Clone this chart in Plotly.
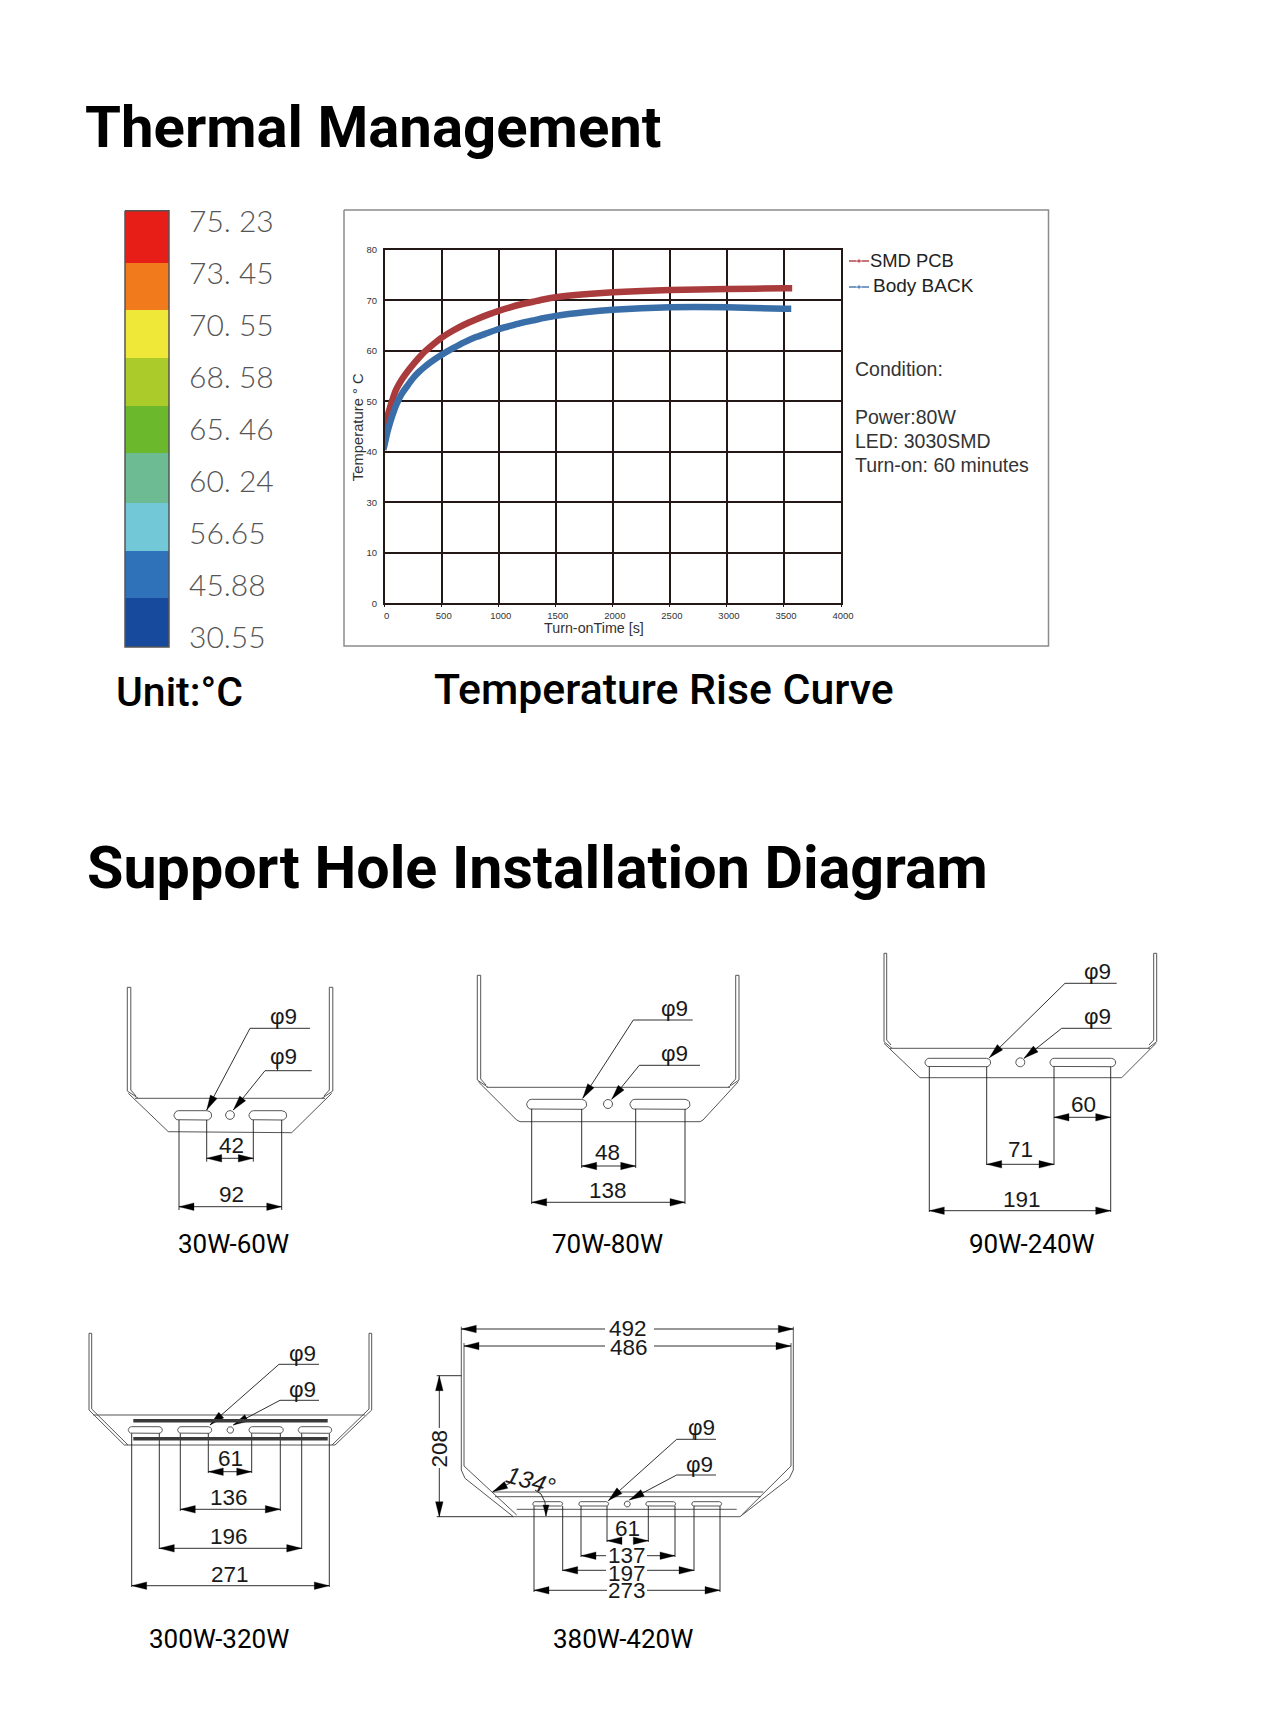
import numpy as np
import plotly.graph_objects as go

W, H = 1268, 1732

# ---------- data ----------
CURVE_TIME_PCB = [-20, 0, 25, 50, 75, 100, 150, 200, 250, 300, 350, 400, 500, 600, 700, 800, 900, 1000, 1100, 1200, 1300, 1400, 1500, 1750, 2000, 2500, 3000, 3500, 3572]
CURVE_TEMP_PCB = [42.7, 44.5, 47.0, 49.0, 50.8, 52.3, 54.3, 55.9, 57.3, 58.6, 59.8, 60.8, 62.6, 64.0, 65.2, 66.2, 67.1, 67.9, 68.6, 69.2, 69.7, 70.2, 70.6, 71.2, 71.6, 72.0, 72.2, 72.35, 72.35]
CURVE_TIME_BACK = [-12, 0, 25, 50, 75, 100, 150, 200, 250, 300, 350, 400, 500, 600, 700, 800, 900, 1000, 1100, 1200, 1300, 1400, 1500, 1750, 2000, 2500, 3000, 3500, 3564]
CURVE_TEMP_BACK = [40.4, 41.5, 44.0, 46.0, 47.7, 49.2, 51.5, 53.1, 54.6, 55.8, 56.8, 57.7, 59.2, 60.5, 61.7, 62.7, 63.5, 64.3, 64.9, 65.5, 66.0, 66.5, 66.9, 67.6, 68.1, 68.6, 68.6, 68.3, 68.3]
# The source axis has no 20 gridline: its labels run 0, 10, 30, 40 ... 80 at even spacing.
Y_TICK_POS = [10, 20, 30, 40, 50, 60, 70, 80]
Y_TICK_TEXT = ["0", "10", "30", "40", "50", "60", "70", "80"]
X_TICKS = [0, 500, 1000, 1500, 2000, 2500, 3000, 3500, 4000]
SCALE_LABELS = ["75. 23", "73. 45", "70. 55", "68. 58", "65. 46", "60. 24", "56.65", "45.88", "30.55"]
SCALE_BANDS = [51.9, 47.4, 47.8, 47.4, 47.8, 49.5, 47.7, 47.4, 49.2]
SCALE_COLORS = ["#E61E17", "#F07A1C", "#F0E838", "#AACB2A", "#6CB82C", "#6DBB92", "#72C8D6", "#2F72BA", "#174A9C"]
CONDITION_LINES = ["Condition:", "Power:80W", "LED: 3030SMD", "Turn-on: 60 minutes"]
LEGEND_NAMES = ["SMD PCB", "Body BACK"]
DIMS_30_60 = ["42", "92"]
DIMS_70_80 = ["48", "138"]
DIMS_90_240 = ["60", "71", "191"]
DIMS_300_320 = ["61", "136", "196", "271"]
DIMS_380_420 = ["492", "486", "208", "61", "137", "197", "273"]
WATT_LABELS = ["30W-60W", "70W-80W", "90W-240W", "300W-320W", "380W-420W"]
HOLE_LABEL = "φ9"
ANGLE_LABEL = "134°"

SANS = "Liberation Sans"
HEAD = "Roboto"
INK = "#1a1a1a"
WIRE = "#555555"
NUM = 22.5

fig = go.Figure()
annotations = []


def T(x, y, text, size=NUM, color=INK, family=SANS, weight=None, angle=0, anchor="center", style=None):
    font = dict(family=family, size=size, color=color)
    if weight:
        font["weight"] = weight
    if style:
        font["style"] = style
    annotations.append(dict(x=x, y=y, xref="x3", yref="y3", text=text, showarrow=False, font=font,
                            xanchor=anchor, yanchor="middle", textangle=angle,
                            borderpad=0, borderwidth=0))


class Sheet:
    """Line drawing in page pixels, collected into a few traces."""

    def __init__(self):
        self.lines = ([], [])
        self.fine = ([], [])
        self.heads = ([], [])

    def line(self, *pts, fine=False):
        b = self.fine if fine else self.lines
        for p in pts:
            b[0].append(p[0]); b[1].append(p[1])
        b[0].append(None); b[1].append(None)

    def head(self, tip, frm, length=15, half=3.8):
        t = np.array(tip, float); f = np.array(frm, float)
        u = (f - t) / np.linalg.norm(f - t)
        n = np.array([-u[1], u[0]])
        a = t + u * length + n * half
        b = t + u * length - n * half
        for p in (t, a, b, t):
            self.heads[0].append(float(p[0])); self.heads[1].append(float(p[1]))
        self.heads[0].append(None); self.heads[1].append(None)

    def pill(self, x0, x1, y0, y1):
        r = (y1 - y0) / 2
        cy = (y0 + y1) / 2
        a = np.linspace(-np.pi / 2, np.pi / 2, 10)
        right = [(x1 - r + r * np.cos(t), cy + r * np.sin(t)) for t in a]
        left = [(x0 + r - r * np.cos(t), cy - r * np.sin(t)) for t in a]
        self.line(*(right + left + [right[0]]))

    def circle(self, cx, cy, r):
        a = np.linspace(0, 2 * np.pi, 25)
        self.line(*[(cx + r * np.cos(t), cy + r * np.sin(t)) for t in a])

    def dim(self, x0, x1, y, gap=None):
        if gap:
            self.line((x0, y), (gap[0], y), fine=True)
            self.line((gap[1], y), (x1, y), fine=True)
        else:
            self.line((x0, y), (x1, y), fine=True)
        self.head((x0, y), (x1, y))
        self.head((x1, y), (x0, y))

    def leader(self, p0, p1, tip):
        self.line(p0, p1, tip, fine=True)
        self.head(tip, p1)

    def flush(self):
        fig.add_trace(go.Scatter(x=self.lines[0], y=self.lines[1], mode="lines", xaxis="x3", yaxis="y3",
                                 line=dict(color=WIRE, width=1.0), hoverinfo="skip", showlegend=False))
        fig.add_trace(go.Scatter(x=self.fine[0], y=self.fine[1], mode="lines", xaxis="x3", yaxis="y3",
                                 line=dict(color=INK, width=0.9), hoverinfo="skip", showlegend=False))
        fig.add_trace(go.Scatter(x=self.heads[0], y=self.heads[1], mode="lines", fill="toself", fillcolor="#000000",
                                 xaxis="x3", yaxis="y3", line=dict(color="#000000", width=0.3),
                                 hoverinfo="skip", showlegend=False))


# ---------- colour scale (stacked bars, labels on its own axis) ----------
scale_total = sum(SCALE_BANDS)
SCALE_TOP, SCALE_LEFT, SCALE_RIGHT = 210.8, 125, 169
for h, c in zip(reversed(SCALE_BANDS), reversed(SCALE_COLORS)):
    fig.add_trace(go.Bar(x=[0], y=[h], width=1, marker=dict(color=c, line=dict(width=0)),
                         xaxis="x2", yaxis="y2", hoverinfo="skip", showlegend=False))
label_pos = [scale_total - (221.8 - SCALE_TOP) - 51.93 * i for i in range(len(SCALE_LABELS))]

# ---------- temperature curves ----------
fig.add_trace(go.Scatter(x=CURVE_TIME_PCB, y=CURVE_TEMP_PCB, mode="lines", name=LEGEND_NAMES[0], cliponaxis=False,
                         line=dict(color="#A93B3C", width=6.5, shape="spline", smoothing=0.5), showlegend=False))
fig.add_trace(go.Scatter(x=CURVE_TIME_BACK, y=CURVE_TEMP_BACK, mode="lines", name=LEGEND_NAMES[1], cliponaxis=False,
                         line=dict(color="#3A6EA8", width=6.5, shape="spline", smoothing=0.5), showlegend=False))

# ---------- page furniture ----------
frame_x = [344, 1048.5, 1048.5, 344, 344]
frame_y = [210, 210, 646, 646, 210]
fig.add_trace(go.Scatter(x=frame_x, y=frame_y, mode="lines", xaxis="x3", yaxis="y3", hoverinfo="skip",
                         line=dict(color="#8C8C8C", width=1.5), showlegend=False))
scale_bottom = SCALE_TOP + scale_total
fig.add_trace(go.Scatter(x=[SCALE_LEFT, SCALE_RIGHT, SCALE_RIGHT, SCALE_LEFT, SCALE_LEFT],
                         y=[SCALE_TOP, SCALE_TOP, scale_bottom, scale_bottom, SCALE_TOP], mode="lines", xaxis="x3", yaxis="y3",
                         hoverinfo="skip", line=dict(color="#555555", width=1.5), showlegend=False))
for (y, col) in ((261, "#B5474A"), (287, "#4A7DB5")):
    fig.add_trace(go.Scatter(x=[849, 859, 869], y=[y, y, y], mode="lines+markers", xaxis="x3", yaxis="y3",
                             hoverinfo="skip", showlegend=False, line=dict(color=col, width=1.5),
                             marker=dict(size=[0, 4, 0], color=col, symbol="diamond")))

T(85, 127, "Thermal Management", 58.1, "#000000", HEAD, 700, anchor="left")
T(87, 867, "Support Hole Installation Diagram", 59.2, "#000000", HEAD, 700, anchor="left")
T(116, 692, "Unit:°C", 41, "#000000", HEAD, 500, anchor="left")
T(434, 689, "Temperature Rise Curve", 42.8, "#000000", HEAD, 500, anchor="left")
T(357.7, 427.5, "Temperature ° C", 14.8, "#333333", angle=-90)
T(593.5, 627.5, "Turn-onTime [s]", 14.3, "#333333")
T(870, 260.5, LEGEND_NAMES[0], 18.4, "#222222", anchor="left")
T(873, 285.5, LEGEND_NAMES[1], 19, "#222222", anchor="left")
for y, t in zip((369, 416.7, 441, 465), CONDITION_LINES):
    T(855, y, t, 19.5, "#333333", anchor="left")

# ---------- 30W-60W ----------
s = Sheet()
s.line((127.3, 987.3), (127.3, 1091), (138.3, 1098.3))
s.line((130.8, 987.3), (130.8, 1090), (136, 1096))
s.line((329.3, 987.3), (329.3, 1090), (324, 1096))
s.line((332.8, 987.3), (332.8, 1091), (322, 1098.3))
s.line((127.3, 987.3), (130.8, 987.3)); s.line((329.3, 987.3), (332.8, 987.3))
s.line((135, 1098.3), (325, 1098.3))
s.line((128.3, 1093.3), (168.3, 1131.7), (291.7, 1132.7), (331.7, 1093.3))
s.pill(174, 211.7, 1110.7, 1120); s.pill(249, 286.7, 1110.7, 1120)
s.circle(230, 1115, 4.4)
s.leader((310, 1028.3), (250, 1028.3), (206.7, 1110))
s.leader((311.7, 1070.7), (265, 1070.7), (233.3, 1110))
s.line((277.5, 1022), (277.5, 1028.3), fine=True); s.line((277.5, 1063), (277.5, 1070.7), fine=True)
T(283, 1016, HOLE_LABEL); T(283, 1056, HOLE_LABEL)
s.line((179, 1120), (179, 1210), fine=True); s.line((281.7, 1120), (281.7, 1210), fine=True)
s.line((206.7, 1120), (206.7, 1161.7), fine=True); s.line((253.3, 1120), (253.3, 1161.7), fine=True)
s.dim(206.7, 253.3, 1158.3); s.dim(179, 281.7, 1206.7)
T(231.7, 1145, DIMS_30_60[0]); T(231.7, 1194, DIMS_30_60[1])
s.flush()
T(233, 1244, WATT_LABELS[0], 26, "#000000", HEAD, 400)

# ---------- 70W-80W ----------
s = Sheet()
s.line((477.3, 975.3), (477.3, 1080), (488, 1087.3))
s.line((480.7, 975.3), (480.7, 1079), (486, 1085))
s.line((735.7, 975.3), (735.7, 1079), (730, 1085))
s.line((739, 975.3), (739, 1080), (728, 1087.3))
s.line((477.3, 975.3), (480.7, 975.3)); s.line((735.7, 975.3), (739, 975.3))
s.line((486.7, 1087.3), (730, 1087.3))
s.line((478.3, 1081.7), (516.7, 1120), (520, 1121.7), (700, 1121.7), (703, 1120), (738.3, 1081.7))
s.pill(526.7, 586.7, 1099.3, 1109.3); s.pill(630, 690, 1099.3, 1109.3)
s.circle(608, 1104, 4.5)
s.leader((692.7, 1020), (633.3, 1020), (582.7, 1098.3))
s.leader((700, 1065.3), (639.3, 1065.3), (611.7, 1099.3))
s.line((668.3, 1014), (668.3, 1020), fine=True); s.line((668.3, 1059), (668.3, 1065.3), fine=True)
T(674, 1008.3, HOLE_LABEL); T(674, 1053.3, HOLE_LABEL)
s.line((531.7, 1109), (531.7, 1204), fine=True); s.line((685, 1109), (685, 1204), fine=True)
s.line((581.7, 1109), (581.7, 1168), fine=True); s.line((635.7, 1109), (635.7, 1168), fine=True)
s.dim(581.7, 635.7, 1166); s.dim(531.7, 685, 1202.3)
T(607.7, 1152.7, DIMS_70_80[0]); T(608.3, 1190.7, DIMS_70_80[1])
s.flush()
T(607, 1244, WATT_LABELS[1], 26, "#000000", HEAD, 400)

# ---------- 90W-240W ----------
s = Sheet()
s.line((884, 953.3), (884, 1041.7), (892, 1048.3))
s.line((886.7, 953.3), (886.7, 1040), (891, 1045))
s.line((1153.7, 953.3), (1153.7, 1040), (1149, 1045))
s.line((1156.7, 953.3), (1156.7, 1041.7), (1148, 1048.3))
s.line((884, 953.3), (886.7, 953.3)); s.line((1153.7, 953.3), (1156.7, 953.3))
s.line((890, 1048.3), (1150, 1048.3))
s.line((884, 1043.3), (920, 1077.7), (1121.7, 1077.7), (1156, 1043.3))
s.pill(925, 990.7, 1058.3, 1066.7); s.pill(1050, 1115.7, 1058.3, 1066.7)
s.circle(1020.3, 1062.3, 4.5)
s.leader((1116.7, 983.3), (1065, 983.3), (989.3, 1057.7))
s.leader((1111.7, 1028.3), (1061.7, 1028.3), (1024, 1058.3))
s.line((1091.7, 977), (1091.7, 983.3), fine=True); s.line((1091.7, 1022), (1091.7, 1028.3), fine=True)
T(1097.3, 971.7, HOLE_LABEL); T(1097.3, 1016.7, HOLE_LABEL)
s.line((929.3, 1066.7), (929.3, 1212), fine=True); s.line((1110.7, 1066.7), (1110.7, 1212), fine=True)
s.line((986.7, 1066.7), (986.7, 1165), fine=True); s.line((1054, 1066.7), (1054, 1165), fine=True)
s.dim(1054, 1110.7, 1117.3); s.dim(986.7, 1054, 1164.3); s.dim(929.3, 1110.7, 1210.7)
T(1083.3, 1104, DIMS_90_240[0]); T(1020, 1149, DIMS_90_240[1]); T(1022, 1199, DIMS_90_240[2])
s.flush()
T(1032, 1244, WATT_LABELS[2], 26, "#000000", HEAD, 400)

# ---------- 300W-320W ----------
s = Sheet()
s.line((89, 1333.3), (89, 1410), (124.3, 1445))
s.line((91.7, 1333.3), (91.7, 1409), (128, 1445))
s.line((369, 1333.3), (369, 1409), (332, 1445))
s.line((371.7, 1333.3), (371.7, 1410), (335, 1445))
s.line((89, 1333.3), (91.7, 1333.3)); s.line((369, 1333.3), (371.7, 1333.3))
s.line((93.3, 1415), (365, 1415)); s.line((124.3, 1445), (335, 1445))
for x0, x1 in ((128.3, 162.3), (177.7, 211.7), (249, 283.3), (298.3, 331.7)):
    s.pill(x0, x1, 1426.7, 1433.3)
s.circle(230.3, 1430, 3.3)
s.leader((319, 1364.3), (279, 1364.3), (210, 1425))
s.leader((319, 1400.3), (280, 1400.3), (233.3, 1425))
s.line((296.7, 1358), (296.7, 1364.3), fine=True); s.line((296.7, 1394), (296.7, 1400.3), fine=True)
T(302.3, 1353.3, HOLE_LABEL); T(302.3, 1389.3, HOLE_LABEL)
for x, y in ((131.7, 1587), (329.3, 1587), (159.3, 1549), (301.7, 1549), (180.3, 1511), (280.3, 1511), (208.3, 1473), (251.7, 1473)):
    s.line((x, 1433.3), (x, y), fine=True)
s.dim(208.3, 251.7, 1471.7); s.dim(180.3, 280.3, 1509.3); s.dim(159.3, 301.7, 1548.3); s.dim(131.7, 329.3, 1585.7)
T(230, 1458.3, DIMS_300_320[0]); T(229.3, 1497.7, DIMS_300_320[1]); T(229.3, 1536, DIMS_300_320[2]); T(230.3, 1574, DIMS_300_320[3])
s.flush()
fig.add_trace(go.Scatter(x=[133.3, 327.7, None, 133.3, 327.7], y=[1420.7, 1420.7, None, 1438.7, 1438.7], mode="lines",
                         xaxis="x3", yaxis="y3", hoverinfo="skip", showlegend=False,
                         line=dict(color="#3a3a3a", width=3.6)))
T(219, 1639, WATT_LABELS[3], 26, "#000000", HEAD, 400)

# ---------- 380W-420W ----------
s = Sheet()
s.line((461.3, 1326.7), (461.3, 1470), (465, 1478.3), (513.3, 1516.7))
s.line((464, 1343), (464, 1466), (516.7, 1515))
s.line((793.3, 1326.7), (793.3, 1470), (789.3, 1478.3), (740, 1516.7))
s.line((791, 1343), (791, 1466), (741.7, 1515))
s.line((513.3, 1516.7), (740, 1516.7)); s.line((516.7, 1509.3), (736.7, 1509.3))
s.line((492.7, 1492), (763.3, 1492)); s.line((495, 1496.7), (761, 1496.7))
for x0, x1 in ((532.7, 562.7), (578.7, 608.7), (645.7, 675.7), (691.7, 721.7)):
    s.pill(x0, x1, 1501.7, 1506)
s.circle(627.3, 1504, 3)
s.leader((716, 1439.3), (676.7, 1439.3), (608.3, 1500.7))
s.leader((716, 1475), (676.7, 1475), (629.3, 1500))
s.line((693.3, 1433), (693.3, 1439.3), fine=True); s.line((693.3, 1468), (693.3, 1475), fine=True)
T(701.7, 1427.3, HOLE_LABEL); T(699.3, 1464, HOLE_LABEL)
s.dim(461.3, 793.3, 1329, gap=(605, 654))
s.dim(464, 791, 1346, gap=(605, 654))
T(628.3, 1328, DIMS_380_420[0]); T(629, 1347, DIMS_380_420[1])
# height dimension
s.line((436.7, 1375.7), (461.3, 1375.7), fine=True); s.line((436.7, 1516.7), (513.3, 1516.7), fine=True)
s.line((439.3, 1375.7), (439.3, 1428), fine=True); s.line((439.3, 1468), (439.3, 1516.7), fine=True)
s.head((439.3, 1375.7), (439.3, 1516.7)); s.head((439.3, 1516.7), (439.3, 1375.7))
T(439.3, 1448.3, DIMS_380_420[2], angle=-90)
# angle callout
s.line((510, 1483), (492.7, 1491.7), fine=True); s.head((492.7, 1491.7), (510, 1483))
s.line((535, 1490), (541, 1494), (545, 1502), (546, 1516), fine=True); s.head((546, 1516), (546, 1500), length=11, half=3)
T(531, 1480, ANGLE_LABEL, 24, style="italic", angle=16)
for x, y in ((534, 1592), (720, 1592), (562.7, 1571), (694, 1571), (581, 1557), (675, 1557), (607, 1542), (648.3, 1542)):
    s.line((x, 1506), (x, y), fine=True)
s.dim(607, 648.3, 1540.7, gap=(622, 634))
s.dim(581, 675, 1555.7, gap=(606, 647))
s.dim(562.7, 694, 1570.3, gap=(606, 647))
s.dim(534, 720, 1590.3, gap=(607, 647))
T(627.3, 1528.3, DIMS_380_420[3]); T(627.3, 1555.7, DIMS_380_420[4]); T(626.7, 1573, DIMS_380_420[5]); T(627.3, 1590, DIMS_380_420[6])
s.flush()
T(622.5, 1639, WATT_LABELS[4], 26, "#000000", HEAD, 400)

# ---------- layout ----------
GRID = "#231815"
fig.update_layout(
    width=W, height=H, margin=dict(l=0, r=0, t=0, b=0, autoexpand=False), paper_bgcolor="white", plot_bgcolor="rgba(0,0,0,0)",
    barmode="stack", bargap=0, annotations=annotations, hovermode=False,
    xaxis=dict(domain=[384.7 / W, 841 / W], range=[0, 4000], tickvals=X_TICKS, showgrid=True, gridcolor=GRID, gridwidth=1.6,
               showline=True, linecolor=GRID, linewidth=1.6, mirror=True, zeroline=False, ticks="outside", ticklen=2,
               tickcolor=GRID, tickwidth=1.4, tickfont=dict(family=SANS, size=9.5, color="#333333"), anchor="y",
               ticklabelshift=2, ticklabelstandoff=0, automargin=False),
    yaxis=dict(domain=[1 - 603.3 / H, 1 - 249.7 / H], range=[10, 80], tickvals=Y_TICK_POS, ticktext=Y_TICK_TEXT, showgrid=True,
               gridcolor=GRID, gridwidth=1.6, showline=True, linecolor=GRID, linewidth=1.6, mirror=True, zeroline=False,
               ticks="", tickfont=dict(family=SANS, size=9.5, color="#333333"), anchor="x", ticklabelstandoff=4, automargin=False),
    xaxis2=dict(domain=[SCALE_LEFT / W, SCALE_RIGHT / W], range=[-0.5, 0.5], visible=False, anchor="y2", automargin=False),
    yaxis2=dict(domain=[1 - scale_bottom / H, 1 - SCALE_TOP / H], range=[0, scale_total], side="right", anchor="x2", showgrid=False,
                zeroline=False, showline=False, ticks="", tickvals=label_pos, ticktext=SCALE_LABELS, ticklabelstandoff=19,
                tickfont=dict(family="Lato", size=30, color="#555555", weight=300), automargin=False),
    xaxis3=dict(domain=[0, 1], range=[0, W], visible=False, anchor="y3", automargin=False),
    yaxis3=dict(domain=[0, 1], range=[H, 0], visible=False, anchor="x3", automargin=False),
)

PAGE_RESET = (
    "document.documentElement.style.margin='0';document.body.style.margin='0';"
    "var gd=document.getElementById('{plot_id}');"
    "gd.style.position='absolute';gd.style.left='0';gd.style.top='0';"
)
fig.write_html("out.html", post_script=PAGE_RESET, config=dict(displayModeBar=False))
